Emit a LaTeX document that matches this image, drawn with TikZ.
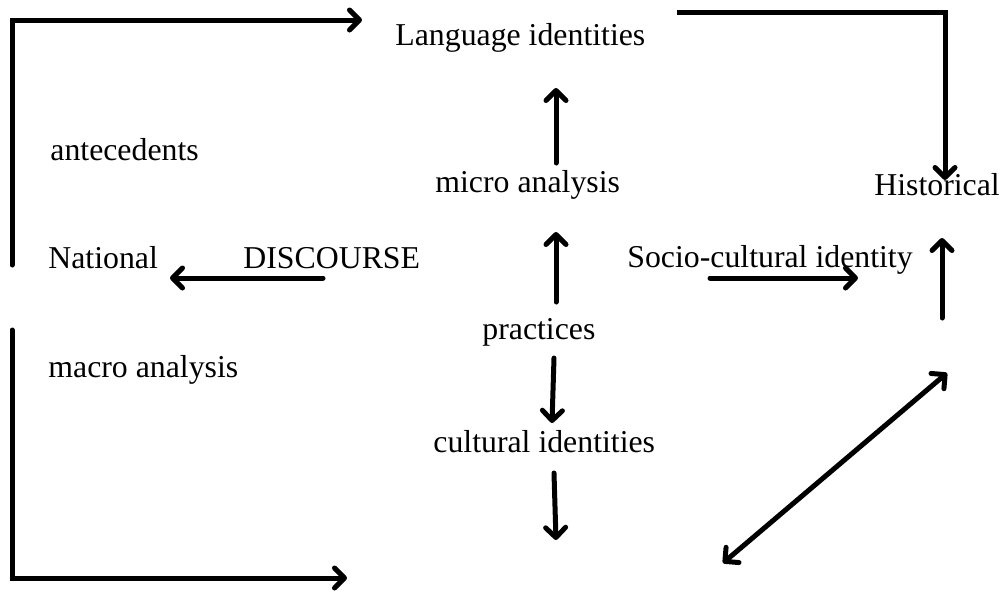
\documentclass[tikz,border=0pt]{standalone}
\usepackage{fontspec}
\setmainfont{Liberation Serif}
\usetikzlibrary{arrows.meta}

\begin{document}
\begin{tikzpicture}[x=0.5pt, y=-0.5pt, >={Straight Barb[length=5pt,width=10pt,round]},
  lbl/.style={font=\fontsize{15.9}{18}\selectfont, inner sep=0pt, anchor=west},
  conn/.style={->, line width=2.5pt, line cap=round, line join=miter}]

\useasboundingbox (0,0) rectangle (1002,591);

% --- Labels ---
\node[lbl] (lang) at (395,38) {Language identities};
\node[lbl] (ante) at (50,150) {antecedents};
\node[lbl] (micro) at (435,185) {micro analysis};
\node[lbl] (hist) at (874,185) {Historical};
\node[lbl] (nat) at (48,258) {National};
\node[lbl] (disc) at (243,258) {DISCOURSE};
\node[lbl] (socio) at (627,260) {Socio-cultural identity};
\node[lbl] (prac) at (482,332) {practices};
\node[lbl] (macro) at (48,370) {macro analysis};
\node[lbl] (cult) at (433,442) {cultural identities};

% --- Arrow end points ---
\coordinate (tl-s) at (12,265);  \coordinate (tl-e) at (362,20);
\coordinate (tr-s) at (677,12);  \coordinate (tr-e) at (945,180);
\coordinate (bl-s) at (12,330);  \coordinate (bl-e) at (347,578);
\coordinate (mi-s) at (556,163); \coordinate (mi-e) at (556,88);
\coordinate (pu-s) at (556,302); \coordinate (pu-e) at (556,232);
\coordinate (pd-s) at (554,358); \coordinate (pd-e) at (552,423);
\coordinate (cd-s) at (554,473); \coordinate (cd-e) at (556,540);
\coordinate (na-s) at (323,278); \coordinate (na-e) at (170,278);
\coordinate (so-s) at (710,278); \coordinate (so-e) at (858,278);
\coordinate (hi-s) at (942,318); \coordinate (hi-e) at (942,238);
\coordinate (dd-s) at (723,563); \coordinate (dd-e) at (947,373);

% --- Brackets ---
\draw[conn] (tl-s) |- (tl-e);
\draw[conn, line cap=butt] (tr-s) -| (tr-e);
\draw[conn] (bl-s) |- (bl-e);

% --- Short arrows ---
\draw[conn] (mi-s) -- (mi-e);
\draw[conn] (pu-s) -- (pu-e);
\draw[conn] (pd-s) -- (pd-e);
\draw[conn] (cd-s) -- (cd-e);
\draw[conn] (na-s) -- (na-e);
\draw[conn] (so-s) -- (so-e);
\draw[conn] (hi-s) -- (hi-e);
\draw[conn, <->] (dd-s) -- (dd-e);

\end{tikzpicture}
\end{document}
